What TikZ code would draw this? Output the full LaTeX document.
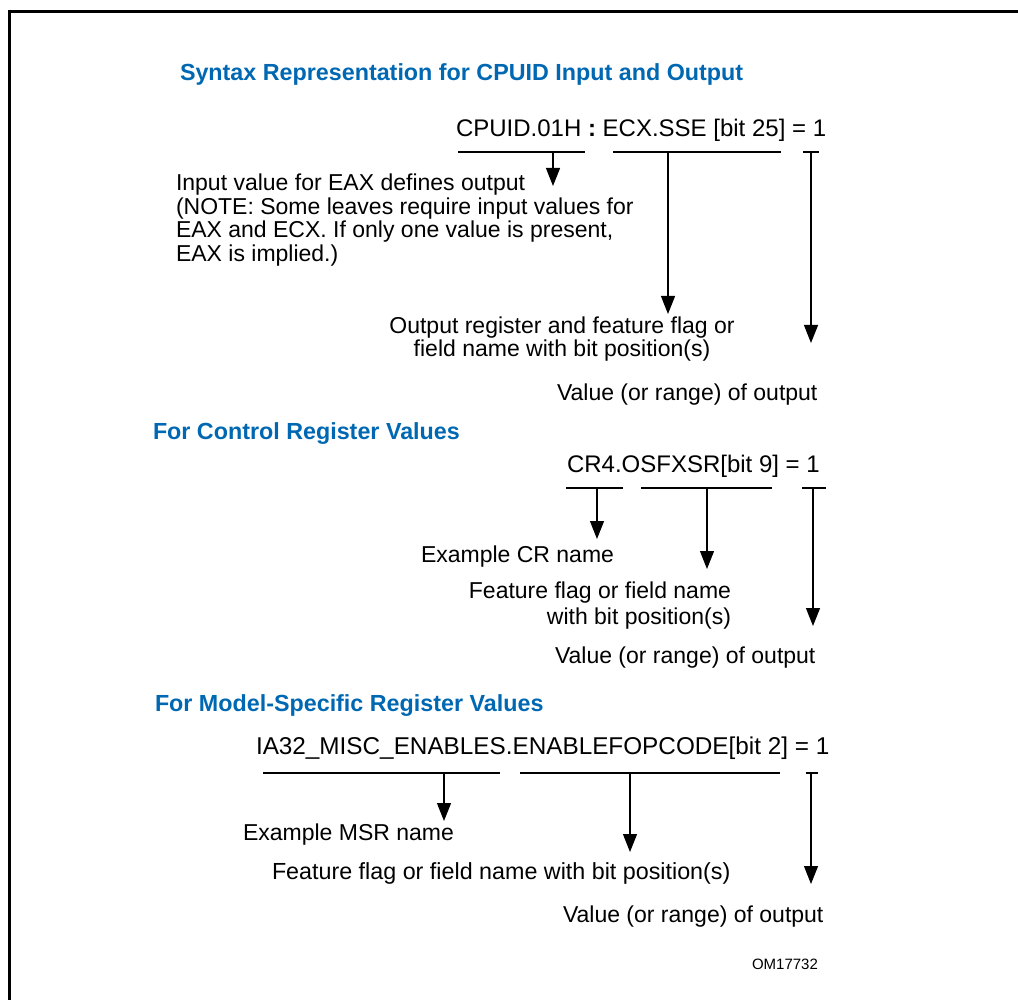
\documentclass[tikz,border=0pt]{standalone}
\usepackage{fontspec}
\setmainfont{Liberation Sans}
\usetikzlibrary{arrows.meta}
\definecolor{hdblue}{RGB}{0,104,178}
\tikzset{
  txt/.style={inner sep=0pt, outer sep=0pt, anchor=base west, font=\fontsize{23}{23.5}\selectfont},
  expr/.style={txt, font=\fontsize{24}{25}\selectfont},
  head/.style={txt, font=\fontsize{23.3}{24}\selectfont\bfseries, text=hdblue},
  bar/.style={line width=1.1pt},
  pointer/.style={line width=1.1pt, -{Triangle[width=14pt,length=18pt]}},
  frame/.style={line width=3pt}
}
\begin{document}
\begin{tikzpicture}[x=1pt,y=-1pt]
\useasboundingbox (0,0) rectangle (1018,1000);
\clip (0,0) rectangle (1018,1000);
\draw[frame] (9.5,1040) -- (9.5,12) -- (1040,12);

% ---------- Section 1 ----------
\node[head] (t1) at (180,81) {Syntax Representation for CPUID Input and Output};
\node[expr] (e1) at (456,137) {CPUID.01H \textbf{:} ECX.SSE [bit 25] = 1};
\coordinate (a1l) at (458,152); \coordinate (a1r) at (585,152);
\coordinate (b1l) at (613,152); \coordinate (b1r) at (781,152);
\coordinate (c1l) at (803,152); \coordinate (c1r) at (819,152);
\draw[bar] (a1l) -- (a1r);
\draw[bar] (b1l) -- (b1r);
\draw[bar] (c1l) -- (c1r);
\coordinate (a1s) at (553,152); \coordinate (a1t) at (553,186);
\coordinate (b1s) at (668,152); \coordinate (b1t) at (668,314);
\coordinate (c1s) at (811,152); \coordinate (c1t) at (811,343);
\draw[pointer] (a1s) -- (a1t);
\draw[pointer] (b1s) -- (b1t);
\draw[pointer] (c1s) -- (c1t);
\node[txt] (in1) at (176,191) {Input value for EAX defines output};
\node[txt] (in2) at (176,214.5) {(NOTE: Some leaves require input values for};
\node[txt] (in3) at (176,238) {EAX and ECX. If only one value is present,};
\node[txt] (in4) at (176,261.5) {EAX is implied.)};
\node[txt, anchor=base] (out1) at (562,334) {Output register and feature flag or};
\node[txt, anchor=base] (out2) at (562,357) {field name with bit position(s)};
\node[txt] (v1) at (557,400) {Value (or range) of output};

% ---------- Section 2 ----------
\node[head] (t2) at (153,439) {For Control Register Values};
\node[expr] (e2) at (567,472) {CR4.OSFXSR[bit 9] = 1};
\coordinate (a2l) at (566,488); \coordinate (a2r) at (623,488);
\coordinate (b2l) at (641,488); \coordinate (b2r) at (772,488);
\coordinate (c2l) at (802,488); \coordinate (c2r) at (826,488);
\draw[bar] (a2l) -- (a2r);
\draw[bar] (b2l) -- (b2r);
\draw[bar] (c2l) -- (c2r);
\coordinate (a2s) at (597,488); \coordinate (a2t) at (597,539);
\coordinate (b2s) at (707,488); \coordinate (b2t) at (707,569);
\coordinate (c2s) at (813,488); \coordinate (c2t) at (813,626);
\draw[pointer] (a2s) -- (a2t);
\draw[pointer] (b2s) -- (b2t);
\draw[pointer] (c2s) -- (c2t);
\node[txt] (n2) at (421,562) {Example CR name};
\node[txt, anchor=base east] (f2a) at (731,598) {Feature flag or field name};
\node[txt, anchor=base east] (f2b) at (731,624) {with bit position(s)};
\node[txt] (v2) at (555,663) {Value (or range) of output};

% ---------- Section 3 ----------
\node[head] (t3) at (155,711) {For Model-Specific Register Values};
\node[expr, font=\fontsize{24.3}{25}\selectfont] (e3) at (256,754) {IA32\_MISC\_ENABLES.ENABLEFOPCODE[bit 2] = 1};
\coordinate (a3l) at (263,773); \coordinate (a3r) at (500,773);
\coordinate (b3l) at (520,773); \coordinate (b3r) at (780,773);
\coordinate (c3l) at (806,773); \coordinate (c3r) at (818,773);
\draw[bar] (a3l) -- (a3r);
\draw[bar] (b3l) -- (b3r);
\draw[bar] (c3l) -- (c3r);
\coordinate (a3s) at (444,773); \coordinate (a3t) at (444,821);
\coordinate (b3s) at (630,773); \coordinate (b3t) at (630,852);
\coordinate (c3s) at (811,773); \coordinate (c3t) at (811,884);
\draw[pointer] (a3s) -- (a3t);
\draw[pointer] (b3s) -- (b3t);
\draw[pointer] (c3s) -- (c3t);
\node[txt] (n3) at (243,840) {Example MSR name};
\node[txt, font=\fontsize{23.3}{24}\selectfont] (f3) at (272,879) {Feature flag or field name with bit position(s)};
\node[txt] (v3) at (563,922) {Value (or range) of output};
\node[txt, font=\fontsize{15}{17}\selectfont] (om) at (752,969) {OM17732};
\end{tikzpicture}
\end{document}
